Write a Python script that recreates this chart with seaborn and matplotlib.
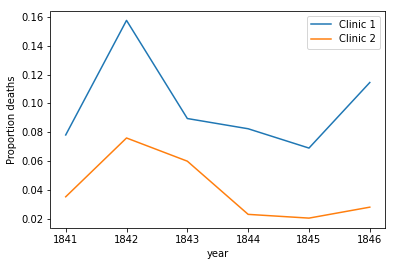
import matplotlib
matplotlib.use("Agg")
import matplotlib.pyplot as plt
import seaborn as sns
import pandas as pd

years = [1841, 1842, 1843, 1844, 1845, 1846]
clinic1 = [0.0781, 0.1576, 0.0895, 0.0824, 0.0690, 0.1145]
clinic2 = [0.0352, 0.0760, 0.0599, 0.0230, 0.0204, 0.0280]
labels = ["Clinic 1", "Clinic 2"]

df = pd.DataFrame({
    "year": years * 2,
    "proportion": clinic1 + clinic2,
    "clinic": [labels[0]] * len(years) + [labels[1]] * len(years),
})

W, H, DPI = 395, 266, 72
fig = plt.figure(figsize=(W / DPI, H / DPI), dpi=DPI)
ax = fig.add_axes([50.5 / W, 1 - 228 / H, (385 - 50.5) / W, (228 - 10.5) / H])
sns.lineplot(data=df, x="year", y="proportion", hue="clinic", ax=ax,
             palette=["#1f77b4", "#ff7f0e"], linewidth=1.5)
ax.set_ylabel("Proportion deaths")
ax.set_xlabel("year")
ax.set_xticks(years)
ax.set_xticklabels([str(y) for y in years])
ax.set_yticks([0.02, 0.04, 0.06, 0.08, 0.10, 0.12, 0.14, 0.16])
ax.set_yticklabels(["0.02", "0.04", "0.06", "0.08", "0.10", "0.12", "0.14", "0.16"])
ax.legend(title=None, loc="upper right")
fig.savefig("out.png", dpi=DPI)
